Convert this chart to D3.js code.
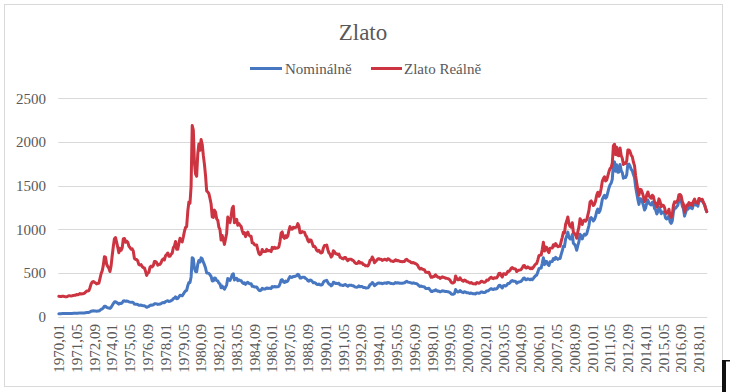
<!DOCTYPE html>
<html>
<head>
<meta charset="utf-8">
<script src="https://cdn.jsdelivr.net/npm/d3@7"></script>
<style>
html,body{margin:0;padding:0;background:#fff;}
svg{display:block;}
</style>
</head>
<body>
<svg id="chart" width="730" height="392"></svg>
<script>
const title = "Zlato";
const seriesNames = ["Nominálně", "Zlato Reálně"];
const startYear = 1970;
const yTicks = [0, 500, 1000, 1500, 2000, 2500];
const xTickLabels = ["1970,01","1971,05","1972,09","1974,01","1975,05","1976,09","1978,01","1979,05","1980,09","1982,01","1983,05","1984,09","1986,01","1987,05","1988,09","1990,01","1991,05","1992,09","1994,01","1995,05","1996,09","1998,01","1999,05","2000,09","2002,01","2003,05","2004,09","2006,01","2007,05","2008,09","2010,01","2011,05","2012,09","2014,01","2015,05","2016,09","2018,01"];

// Monthly values, 1970,01 .. 2018,08 (one row per year)
const nominal = [
35.0,35.0,35.1,35.6,35.9,35.4,35.3,35.4,36.2,37.5,37.4,37.4,
37.9,38.7,38.9,39.0,40.5,40.1,41.0,42.7,42.0,42.5,42.9,43.5,
45.8,48.3,48.3,49.0,54.6,62.1,65.7,67.0,65.5,64.9,62.9,63.9,
65.1,74.2,84.4,90.5,102.0,120.1,120.4,106.8,103.0,100.0,94.1,106.7,
129,150,168,172,163,154,143,154,151,158,181,183,
176,180,178,170,167,164,166,161,144,142,143,140,
131.6,131.1,132.7,128.1,126.0,125.6,117.7,107.2,114.5,116.0,130.2,133.8,
132.3,136.4,148.4,149.2,146.8,140.8,143.4,144.7,150.0,158.8,162.3,160.5,
173.2,178.2,183.7,175.1,176.3,183.7,188.7,206.3,212.3,227.4,206.0,207.8,
227.3,245.7,242.1,239.2,257.6,279.1,294.7,300.8,355.1,392.0,392.3,455.1,
675.3,665.3,553.6,517.4,513.8,600.7,644.3,626.5,673.6,661.2,623.5,594.9,
557.4,500.1,499.0,495.8,479.7,460.8,409.3,410.1,443.5,437.8,413.4,410.1,
384.0,374.2,330.4,350.4,333.6,314.9,339.1,364.9,436.9,422.6,415.0,444.4,
481.3,491.4,419.8,432.3,438.2,412.6,422.6,416.3,411.8,393.6,381.6,387.9,
370.9,386.2,394.3,381.6,377.6,377.9,347.7,347.7,341.1,340.2,341.2,320.2,
303.0,298.4,304.0,324.9,316.6,316.4,317.5,329.5,323.8,325.8,325.6,322.3,
345.4,338.9,345.7,340.4,342.6,342.6,348.5,376.3,417.7,423.3,398.3,391.3,
408.3,401.1,408.9,438.4,460.2,449.6,450.5,461.3,460.1,465.4,467.7,486.3,
477.0,442.2,443.6,452.1,451.1,451.6,437.6,431.6,413.5,406.9,420.1,418.5,
404.0,387.9,390.2,384.2,371.0,367.6,375.0,365.4,361.9,366.9,394.1,409.4,
410.1,416.8,393.1,374.3,369.0,352.3,362.5,394.8,389.3,380.7,381.8,378.2,
383.6,363.8,363.3,358.4,356.8,366.7,367.7,356.4,348.8,358.7,360.2,361.3,
354.5,353.9,344.3,338.5,337.2,340.8,352.8,342.9,345.4,344.4,335.0,334.8,
329.0,329.4,330.0,342.2,367.1,371.9,392.0,379.8,355.3,364.2,373.8,383.3,
386.9,381.9,384.1,377.3,381.4,385.6,385.5,380.4,391.6,389.8,384.4,379.3,
378.6,376.6,382.1,391.0,385.3,387.6,386.2,383.7,383.1,383.0,385.5,387.4,
399.5,404.8,396.2,392.9,391.9,385.3,383.5,387.5,383.1,381.1,377.9,369.3,
354.9,346.6,351.8,344.5,343.8,340.8,324.1,324.0,322.8,324.9,306.0,288.7,
289.1,297.5,295.9,308.4,299.1,292.3,292.9,284.1,289.0,296.0,294.1,291.6,
287.1,287.3,286.0,282.6,276.4,261.3,256.1,256.7,264.7,310.7,293.2,283.1,
284.6,299.9,286.4,279.7,275.3,285.7,281.6,274.5,273.7,270.0,266.0,271.5,
265.5,261.9,263.0,260.5,272.4,270.2,267.5,272.4,283.4,283.1,276.2,275.9,
281.7,295.5,294.1,302.7,314.5,321.2,313.3,310.3,319.2,316.6,319.2,333.4,
356.9,359.0,340.6,328.2,355.7,356.4,351.0,359.8,378.9,378.9,389.9,407.6,
414.0,405.3,406.7,403.0,383.8,392.4,398.1,400.5,405.3,420.5,439.4,442.1,
424.0,423.4,434.2,428.9,421.9,430.7,424.5,437.9,456.0,469.9,476.7,510.1,
549.9,555.0,557.1,610.6,675.4,596.2,633.8,632.6,598.2,585.8,627.8,629.8,
631.2,664.7,654.9,679.4,666.9,655.5,665.3,665.4,712.7,754.6,806.3,803.2,
889.6,922.3,968.4,909.7,888.7,889.5,939.8,839.0,829.9,806.6,760.9,816.1,
858.7,943.2,924.3,890.2,928.6,945.7,934.2,949.4,996.6,1043.2,1127.0,1134.7,
1118.0,1095.4,1113.3,1148.7,1205.4,1232.9,1193.0,1215.8,1271.0,1342.0,1369.9,1390.6,
1356.4,1372.7,1424.0,1473.8,1510.4,1528.7,1572.8,1755.8,1771.9,1665.2,1739.0,1652.3,
1656.1,1742.6,1673.8,1649.7,1585.5,1596.7,1593.9,1626.0,1744.8,1746.6,1721.6,1684.8,
1671.9,1627.6,1593.1,1487.9,1414.0,1343.4,1285.5,1351.7,1348.6,1316.6,1275.9,1221.5,
1244.3,1299.6,1336.1,1299.0,1287.5,1279.1,1310.6,1296.0,1238.8,1222.5,1176.3,1200.6,
1251.8,1227.1,1178.6,1198.9,1198.6,1181.5,1128.3,1117.9,1124.8,1159.3,1086.4,1068.3,
1097.9,1199.5,1245.1,1242.3,1260.9,1276.4,1336.7,1340.2,1326.6,1266.6,1238.4,1151.4,
1192.1,1234.2,1231.1,1266.9,1246.0,1260.3,1236.8,1283.0,1314.1,1279.5,1281.9,1264.5,
1331.3,1330.7,1324.7,1334.8,1303.5,1282.3,1237.7,1202.0
];

const real = [
233,232,232,235,235,231,229,229,233,241,239,238,
240,244,245,245,254,251,255,265,260,263,264,268,
281,295,294,298,331,375,396,403,392,387,375,380,
385,436,492,524,587,686,682,600,575,554,517,582,
698,804,893,906,851,796,733,782,760,787,893,895,
852,866,853,809,792,772,777,750,667,655,655,638,
596,591,596,574,562,558,520,472,502,507,566,579,
570,585,632,633,619,590,598,600,618,651,662,650,
698,713,729,692,691,715,728,790,807,860,773,773,
839,897,875,856,912,977,1021,1032,1204,1313,1300,1493,
2188,2136,1760,1632,1608,1862,1978,1905,2028,1974,1846,1743,
1616,1440,1427,1408,1353,1290,1142,1136,1220,1195,1120,1103,
1025,995,877,929,881,828,890,956,1140,1099,1077,1151,
1242,1263,1075,1102,1115,1046,1067,1047,1034,984,950,962,
916,952,968,935,923,920,845,843,824,820,821,767,
724,710,722,770,747,745,745,771,754,757,754,745,
794,779,795,782,787,786,800,863,957,970,912,896,
927,906,922,986,1031,1003,1002,1024,1017,1024,1027,1065,
1040,960,960,974,968,966,932,915,875,857,880,875,
840,803,806,790,759,750,761,738,729,736,786,815,
812,821,770,730,718,682,698,756,742,721,721,711,
717,679,676,666,661,678,678,656,641,657,658,659,
645,643,624,612,608,613,633,614,617,614,596,594,
582,582,581,602,644,650,684,661,617,631,646,661,
665,656,658,645,651,657,655,646,663,659,648,638,
636,631,639,652,641,643,639,633,631,629,631,633,
651,658,643,636,632,620,616,620,612,607,600,585,
561,547,555,543,541,536,509,508,506,509,479,451,
451,463,460,479,464,453,453,439,446,456,452,448,
439,439,436,430,419,395,387,387,398,466,439,423,
424,446,424,413,406,420,413,401,399,392,385,392,
382,377,378,374,391,387,383,390,405,405,395,394,
400,419,416,428,443,452,440,435,447,442,445,464,
496,498,472,454,491,491,483,494,519,518,532,555,
563,550,550,544,517,527,533,535,540,559,583,585,
560,557,570,561,550,559,550,565,587,602,609,650,
698,704,705,772,852,751,797,794,750,733,784,785,
786,824,809,836,818,801,810,807,861,909,967,960,
1059,1095,1141,1066,1034,1025,1076,964,954,934,898,975,
1025,1122,1098,1056,1099,1106,1094,1109,1163,1217,1315,1325,
1300,1273,1289,1328,1392,1425,1379,1404,1468,1549,1581,1602,
1553,1565,1613,1661,1695,1708,1757,1958,1974,1857,1941,1846,
1842,1931,1845,1813,1742,1756,1755,1784,1907,1909,1889,1850,
1831,1771,1729,1614,1531,1452,1390,1458,1454,1421,1378,1319,
1341,1396,1428,1385,1369,1357,1391,1376,1314,1300,1254,1286,
1349,1318,1260,1278,1273,1250,1194,1183,1192,1230,1154,1138,
1168,1273,1314,1306,1320,1333,1397,1399,1382,1317,1289,1197,
1237,1277,1273,1306,1285,1298,1275,1319,1346,1310,1313,1296,
1354,1347,1337,1343,1307,1284,1239,1202
];

// category labels "YYYY,MM"
const categories = nominal.map((_, i) => {
  const y = startYear + Math.floor(i / 12);
  const m = (i % 12) + 1;
  return y + "," + (m < 10 ? "0" + m : "" + m);
});

const colors = ["#4677c0", "#cc3441"];
const FONT = "'Liberation Serif'";
const TXT = "#595959";

const svg = d3.select("#chart");

// chart-area border
svg.append("rect").attr("x", 4.5).attr("y", 4.5).attr("width", 718).attr("height", 382)
  .attr("fill", "#fff").attr("stroke", "#d9d9d9").attr("stroke-width", 1);

const x = d3.scaleBand().domain(categories).range([58.3, 707.3]).padding(0);
const y = d3.scaleLinear().domain([0, 2500]).range([316.7, 98.3]);
const cx = c => x(c) + x.bandwidth() / 2;

// gridlines
svg.append("g").selectAll("line").data(yTicks).join("line")
  .attr("x1", 58.3).attr("x2", 707.3)
  .attr("y1", d => Math.round(y(d)) + 0.5).attr("y2", d => Math.round(y(d)) + 0.5)
  .attr("stroke", "#d9d9d9").attr("stroke-width", 1);

// y labels
svg.append("g").selectAll("text").data(yTicks).join("text")
  .attr("x", 46).attr("y", d => y(d)).attr("dy", "0.35em")
  .attr("text-anchor", "end").attr("font-size", 15)
  .style("font-family", FONT).attr("fill", TXT).text(d => d);

// x labels
svg.append("g").selectAll("text").data(xTickLabels).join("text")
  .attr("transform", d => `translate(${cx(d)},324) rotate(-90)`)
  .attr("dy", "0.35em").attr("text-anchor", "end").attr("font-size", 15)
  .style("font-family", FONT).attr("fill", TXT).text(d => d);

// lines
const line = d3.line().x((d, i) => cx(categories[i])).y(d => y(d)).curve(d3.curveLinear);
[nominal, real].forEach((s, k) => {
  svg.append("path").datum(s).attr("d", line)
    .attr("fill", "none").attr("stroke", colors[k]).attr("stroke-width", 3)
    .attr("stroke-linejoin", "round").attr("stroke-linecap", "round");
});

// title
svg.append("text").attr("x", 363).attr("y", 40).attr("text-anchor", "middle")
  .attr("font-size", 23).style("font-family", FONT).attr("fill", TXT).text(title);

// legend
const legendItems = [
  {name: seriesNames[0], color: colors[0], x1: 250, x2: 282, tx: 285},
  {name: seriesNames[1], color: colors[1], x1: 371, x2: 402, tx: 404}
];
const lg = svg.append("g");
legendItems.forEach(it => {
  lg.append("line").attr("x1", it.x1).attr("x2", it.x2).attr("y1", 68.5).attr("y2", 68.5)
    .attr("stroke", it.color).attr("stroke-width", 3);
  lg.append("text").attr("x", it.tx).attr("y", 68.5).attr("dy", "0.35em")
    .attr("font-size", 15).style("font-family", FONT).attr("fill", TXT).text(it.name);
});

// dark corner mark at bottom right
svg.append("rect").attr("x", 722).attr("y", 360).attr("width", 4).attr("height", 32).attr("fill", "#111");
svg.append("rect").attr("x", 722).attr("y", 360).attr("width", 8).attr("height", 1.5).attr("fill", "#111");
</script>
</body>
</html>
